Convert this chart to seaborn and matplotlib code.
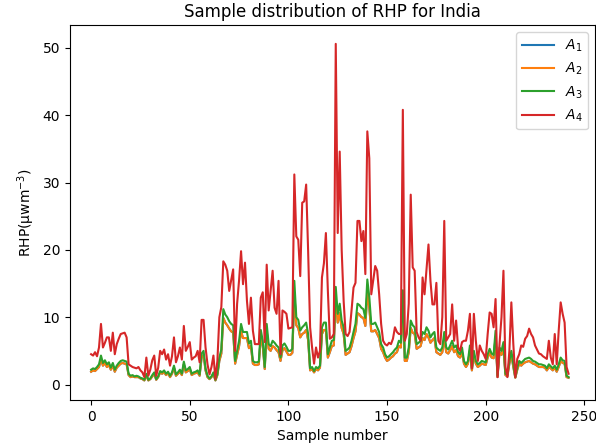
import numpy as np
import pandas as pd
import matplotlib
matplotlib.use("Agg")
import matplotlib.pyplot as plt
import seaborn as sns

A4 = [4.5, 4.3, 4.8, 4.2, 5.5, 9.0, 5.5, 6.2, 7.0, 7.0,
      5.0, 7.7, 4.5, 6.0, 6.8, 7.5, 7.6, 7.7, 7.0, 3.0,
      2.8, 2.6, 2.5, 2.4, 2.6, 2.1, 1.8, 1.1, 4.0, 1.3,
      2.2, 3.6, 4.3, 1.3, 2.5, 5.0, 4.5, 5.2, 3.7, 4.5,
      2.8, 4.2, 7.0, 3.3, 4.2, 5.5, 3.7, 8.7, 5.0, 5.6,
      6.3, 3.7, 4.0, 4.2, 5.0, 3.3, 9.6, 9.6, 5.5, 3.0,
      1.5, 2.6, 4.3, 0.8, 3.5, 10.0, 11.5, 18.3, 17.8, 16.9,
      13.9, 15.5, 17.1, 5.0, 12.0, 15.5, 19.8, 14.9, 18.1, 12.4,
      9.0, 12.9, 8.0, 6.0, 6.0, 6.0, 12.9, 13.7, 6.3, 17.8,
      11.0, 14.0, 16.9, 11.4, 10.5, 15.4, 4.5, 11.0, 10.8, 10.5,
      8.3, 8.4, 8.5, 31.2, 22.0, 21.5, 16.1, 27.0, 27.2, 29.7,
      19.8, 8.5, 5.5, 3.1, 5.5, 4.0, 5.0, 15.9, 18.0, 22.5,
      13.9, 6.8, 7.0, 7.5, 50.6, 22.5, 34.6, 20.0, 12.4, 7.5,
      7.2, 7.8, 11.0, 14.4, 15.1, 24.3, 24.3, 21.3, 22.8, 16.4,
      37.6, 33.6, 13.4, 15.5, 17.6, 16.9, 13.4, 9.0, 6.5, 6.0,
      5.8, 6.2, 6.0, 6.8, 8.5, 7.8, 7.5, 7.5, 40.8, 6.5,
      7.5, 12.0, 28.2, 17.4, 16.9, 7.8, 7.0, 6.5, 15.9, 13.4,
      17.0, 20.8, 15.4, 11.9, 11.9, 15.1, 6.5, 6.0, 10.0, 24.3,
      6.5, 7.0, 7.5, 11.9, 6.5, 9.5, 5.5, 5.0, 6.3, 6.5,
      6.5, 8.0, 10.5, 2.4, 10.5, 6.5, 3.5, 5.8, 5.0, 4.5,
      3.8, 7.5, 10.7, 10.5, 8.5, 12.7, 1.1, 6.0, 10.0, 16.9,
      2.6, 1.1, 5.0, 12.2, 6.0, 1.1, 3.8, 4.5, 5.8, 5.6,
      6.8, 7.2, 8.3, 7.5, 7.0, 5.8, 5.2, 4.6, 4.5, 4.2,
      4.0, 3.8, 6.5, 4.0, 3.0, 7.5, 3.0, 8.0, 12.2, 10.5,
      9.2, 2.6, 1.6]

A3 = [2.2, 2.4, 2.3, 2.6, 3.0, 4.3, 3.2, 3.6, 3.0, 3.3,
      2.5, 3.2, 2.2, 2.8, 3.2, 3.5, 3.6, 3.5, 3.4, 1.6,
      1.3, 1.4, 1.2, 1.3, 1.2, 1.0, 0.9, 0.7, 1.6, 0.7,
      0.9, 1.4, 1.8, 0.8, 1.2, 2.0, 1.8, 2.1, 1.6, 1.9,
      1.3, 1.8, 2.8, 1.5, 1.8, 2.2, 1.6, 3.4, 2.1, 2.3,
      2.6, 1.6, 1.8, 1.9, 2.1, 1.5, 4.6, 5.0, 2.4, 1.3,
      0.9, 1.2, 1.8, 0.7, 1.6, 4.0, 5.2, 11.2, 10.4, 10.0,
      9.4, 9.0, 8.8, 3.5, 5.0, 6.5, 9.0, 7.8, 7.8, 7.8,
      6.1, 6.5, 3.5, 3.3, 3.3, 3.4, 8.1, 6.5, 2.6, 9.0,
      6.0, 5.7, 6.5, 6.2, 5.8, 5.5, 4.0, 5.8, 6.1, 5.6,
      5.0, 5.0, 5.3, 15.4, 10.0, 9.6, 8.0, 8.5, 8.8, 9.2,
      7.5, 2.4, 2.6, 2.0, 2.6, 2.4, 2.8, 8.5, 9.2, 9.2,
      4.5, 5.5, 6.5, 6.6, 14.5, 10.5, 12.0, 9.5, 8.5, 5.0,
      5.2, 5.5, 6.5, 7.8, 9.0, 12.0, 11.8, 11.4, 11.2, 9.9,
      15.6, 13.0, 9.0, 9.0, 9.2, 8.5, 7.8, 6.0, 5.5, 4.5,
      4.0, 4.2, 4.5, 4.8, 5.2, 5.5, 6.5, 6.2, 14.0, 4.0,
      4.0, 5.5, 9.5, 8.8, 8.5, 6.0, 6.2, 6.5, 7.8, 7.5,
      8.5, 8.0, 7.0, 7.5, 7.8, 5.5, 5.2, 5.0, 5.5, 7.8,
      5.5, 5.2, 5.8, 6.5, 5.5, 5.8, 4.8, 4.5, 5.5, 3.5,
      3.0, 3.5, 5.8, 2.4, 5.0, 3.5, 3.0, 3.2, 3.5, 3.4,
      3.3, 4.5, 5.3, 4.6, 4.4, 8.0, 1.3, 5.5, 5.0, 6.3,
      1.6, 1.4, 3.5, 5.0, 3.0, 1.1, 2.5, 3.5, 3.2, 3.5,
      3.8, 3.9, 4.0, 3.8, 3.5, 3.4, 3.2, 3.0, 3.0, 2.9,
      2.8, 2.4, 3.0, 2.7, 2.4, 2.8, 2.2, 3.0, 4.0, 3.6,
      3.5, 1.3, 1.1]

A2 = [1.9, 2.1, 2.0, 2.3, 2.6, 3.8, 2.8, 3.2, 2.6, 2.9,
      2.2, 2.8, 1.9, 2.5, 2.8, 3.1, 3.2, 3.1, 3.0, 1.4,
      1.1, 1.2, 1.1, 1.1, 1.1, 0.9, 0.8, 0.6, 1.4, 0.6,
      0.8, 1.2, 1.6, 0.7, 1.1, 1.8, 1.6, 1.8, 1.4, 1.7,
      1.1, 1.6, 2.5, 1.3, 1.6, 1.9, 1.4, 3.0, 1.8, 2.0,
      2.3, 1.4, 1.6, 1.7, 1.8, 1.3, 4.0, 4.4, 2.1, 1.1,
      0.8, 1.1, 1.6, 0.6, 1.4, 3.5, 4.6, 9.9, 9.2, 8.8,
      8.3, 7.9, 7.7, 3.1, 4.4, 5.7, 7.9, 6.9, 6.9, 6.9,
      5.4, 5.7, 3.1, 2.9, 2.9, 3.0, 7.1, 5.7, 2.3, 7.9,
      5.3, 5.0, 5.7, 5.5, 5.1, 4.8, 3.5, 5.1, 5.4, 4.9,
      4.4, 4.4, 4.7, 13.6, 8.8, 8.4, 7.0, 7.5, 7.7, 8.1,
      6.6, 2.1, 2.3, 1.8, 2.3, 2.1, 2.5, 7.5, 8.1, 8.1,
      4.0, 4.8, 5.7, 5.8, 12.8, 9.2, 10.6, 8.4, 7.5, 4.4,
      4.6, 4.8, 5.7, 6.9, 7.9, 10.6, 10.4, 10.0, 9.9, 8.7,
      13.7, 11.4, 7.9, 7.9, 8.1, 7.5, 6.9, 5.3, 4.8, 4.0,
      3.5, 3.7, 4.0, 4.2, 4.6, 4.8, 5.7, 5.5, 12.3, 3.5,
      3.5, 4.8, 8.4, 7.7, 7.5, 5.3, 5.5, 5.7, 6.9, 6.6,
      7.5, 7.0, 6.2, 6.6, 6.9, 4.8, 4.6, 4.4, 4.8, 6.9,
      4.8, 4.6, 5.1, 5.7, 4.8, 5.1, 4.2, 4.0, 4.8, 3.1,
      2.6, 3.1, 5.1, 2.1, 4.4, 3.1, 2.6, 2.8, 3.1, 3.0,
      2.9, 4.0, 4.7, 4.0, 3.9, 7.0, 1.1, 4.8, 4.4, 5.5,
      1.4, 1.2, 3.1, 4.4, 2.6, 1.0, 2.2, 3.1, 2.8, 3.1,
      3.3, 3.4, 3.5, 3.3, 3.1, 3.0, 2.8, 2.6, 2.6, 2.6,
      2.5, 2.1, 2.6, 2.4, 2.1, 2.5, 1.9, 2.6, 3.5, 3.2,
      3.1, 1.1, 1.0]

A1 = [1.9, 2.1, 2.0, 2.3, 2.6, 3.8, 2.8, 3.2, 2.6, 2.9,
      2.2, 2.8, 1.9, 2.5, 2.8, 3.1, 3.2, 3.1, 3.0, 1.4,
      1.1, 1.2, 1.1, 1.1, 1.1, 0.9, 0.8, 0.6, 1.4, 0.6,
      0.8, 1.2, 1.6, 0.7, 1.1, 1.8, 1.6, 1.8, 1.4, 1.7,
      1.1, 1.6, 2.5, 1.3, 1.6, 1.9, 1.4, 3.0, 1.8, 2.0,
      2.3, 1.4, 1.6, 1.7, 1.8, 1.3, 4.0, 4.4, 2.1, 1.1,
      0.8, 1.1, 1.6, 0.6, 1.4, 3.5, 4.6, 9.9, 9.2, 8.8,
      8.3, 7.9, 7.7, 3.1, 4.4, 5.7, 7.9, 6.9, 6.9, 6.9,
      5.4, 5.7, 3.1, 2.9, 2.9, 3.0, 7.1, 5.7, 2.3, 7.9,
      5.3, 5.0, 5.7, 5.5, 5.1, 4.8, 3.5, 5.1, 5.4, 4.9,
      4.4, 4.4, 4.7, 13.6, 8.8, 8.4, 7.0, 7.5, 7.7, 8.1,
      6.6, 2.1, 2.3, 1.8, 2.3, 2.1, 2.5, 7.5, 8.1, 8.1,
      4.0, 4.8, 5.7, 5.8, 12.8, 9.2, 10.6, 8.4, 7.5, 4.4,
      4.6, 4.8, 5.7, 6.9, 7.9, 10.6, 10.4, 10.0, 9.9, 8.7,
      13.7, 11.4, 7.9, 7.9, 8.1, 7.5, 6.9, 5.3, 4.8, 4.0,
      3.5, 3.7, 4.0, 4.2, 4.6, 4.8, 5.7, 5.5, 12.3, 3.5,
      3.5, 4.8, 8.4, 7.7, 7.5, 5.3, 5.5, 5.7, 6.9, 6.6,
      7.5, 7.0, 6.2, 6.6, 6.9, 4.8, 4.6, 4.4, 4.8, 6.9,
      4.8, 4.6, 5.1, 5.7, 4.8, 5.1, 4.2, 4.0, 4.8, 3.1,
      2.6, 3.1, 5.1, 2.1, 4.4, 3.1, 2.6, 2.8, 3.1, 3.0,
      2.9, 4.0, 4.7, 4.0, 3.9, 7.0, 1.1, 4.8, 4.4, 5.5,
      1.4, 1.2, 3.1, 4.4, 2.6, 1.0, 2.2, 3.1, 2.8, 3.1,
      3.3, 3.4, 3.5, 3.3, 3.1, 3.0, 2.8, 2.6, 2.6, 2.6,
      2.5, 2.1, 2.6, 2.4, 2.1, 2.5, 1.9, 2.6, 3.5, 3.2,
      3.1, 1.1, 1.0]

series_labels = ["$A_1$", "$A_2$", "$A_3$", "$A_4$"]
series_colors = ["#1f77b4", "#ff7f0e", "#2ca02c", "#d62728"]

samples = list(range(len(A4)))

fig = plt.figure(figsize=(5.96, 4.48), dpi=100)
ax = fig.add_axes([70 / 596, 48 / 448, 525 / 596, 375 / 448])

for vals, lab, col in zip([A1, A2, A3, A4], series_labels, series_colors):
    sns.lineplot(x=samples, y=vals, ax=ax, color=col, label=lab, linewidth=1.5)

ax.set_xlim(-10.7, 255.4)
ax.set_ylim(-2.3, 53.4)
ax.set_xticks([0, 50, 100, 150, 200, 250])
ax.set_yticks([0, 10, 20, 30, 40, 50])
ax.tick_params(labelsize=10)
ax.set_title("Sample distribution of RHP for India", fontsize=12)
ax.set_xlabel("Sample number", fontsize=10)
ax.set_ylabel("RHP(μwm$^{-3}$)", fontsize=10)
ax.legend(loc="upper right", fontsize=10, handlelength=2.3)

fig.savefig("out.png", dpi=100)
